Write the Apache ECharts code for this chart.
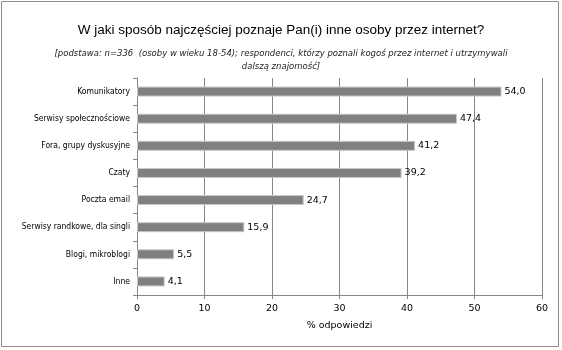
<!DOCTYPE html>
<html><head><meta charset="utf-8">
<script src="https://cdn.jsdelivr.net/npm/echarts@6/dist/echarts.min.js"></script>
<style>html,body{margin:0;padding:0;background:#fff}#c{width:562px;height:350px}</style>
</head><body><div id="c"></div>
<script>
const categories = ["Komunikatory","Serwisy społecznościowe","Fora, grupy dyskusyjne","Czaty","Poczta email","Serwisy randkowe, dla singli","Blogi, mikroblogi","Inne"];
const values = [54.0,47.4,41.2,39.2,24.7,15.9,5.5,4.1];
const titleText = "W jaki sposób najczęściej poznaje Pan(i) inne osoby przez internet?";
const subText = "[podstawa: n=336  (osoby w wieku 18-54); respondenci, którzy poznali kogoś przez internet i utrzymywali\ndalszą znajomość]";
const axisName = "% odpowiedzi";

const chart = echarts.init(document.getElementById('c'));
chart.setOption({
  animation:false,
  graphic:[{type:'rect',shape:{x:1.5,y:1.5,width:557,height:345},style:{fill:null,stroke:'#8c8c8c',lineWidth:1}}],
  title:{text:titleText,subtext:subText,left:'center',top:18,itemGap:10,
    textStyle:{fontFamily:'Liberation Sans',fontSize:13.5,fontWeight:'normal',color:'#000'},
    subtextStyle:{fontFamily:'DejaVu Sans',fontSize:8.5,fontStyle:'italic',color:'#222',lineHeight:13,align:'center',letterSpacing:-0.1}},
  grid:{left:137,right:20,top:78,bottom:55},
  xAxis:{type:'value',min:0,max:60,interval:10,
    name:axisName,nameLocation:'middle',nameGap:26,
    nameTextStyle:{fontFamily:'DejaVu Sans',fontSize:9.5,color:'#000'},
    axisLine:{show:true,lineStyle:{color:'#868686'}},
    axisTick:{show:true,length:4,lineStyle:{color:'#868686'}},
    axisLabel:{fontFamily:'DejaVu Sans',fontSize:9.5,color:'#000',margin:9},
    splitLine:{lineStyle:{color:'#868686'}}},
  yAxis:{type:'category',data:categories,inverse:true,
    axisLine:{lineStyle:{color:'#868686'}},
    axisTick:{show:true,length:4,lineStyle:{color:'#868686'}},
    axisLabel:{fontFamily:'DejaVu Sans Condensed',fontSize:8.5,color:'#000',margin:7,letterSpacing:-0.3}},
  series:[{type:'bar',data:values,barWidth:10,
    itemStyle:{color:'#808080',borderColor:'#c8c8c8',borderWidth:1},
    label:{show:true,position:'right',distance:3,fontFamily:'DejaVu Sans',fontSize:9.5,color:'#000',
      formatter:p=>p.value.toFixed(1).replace('.',',')}}]
});
</script></body></html>
